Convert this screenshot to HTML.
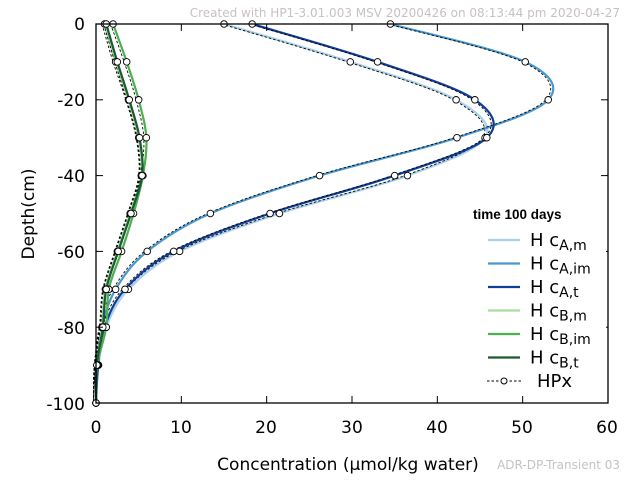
<!DOCTYPE html>
<html><head><meta charset="utf-8"><style>
body{margin:0;background:#fff;}
svg{display:block;font-family:"DejaVu Sans","Liberation Sans",sans-serif;}
</style></head><body>
<svg id="s" width="640" height="480" xmlns="http://www.w3.org/2000/svg">
<rect width="640" height="480" fill="#fff"/>
<text x="620" y="17" font-size="12" fill="#c8c0c8" text-anchor="end">Created with HP1-3.01.003 MSV 20200426 on 08:13:44 pm 2020-04-27</text>
<text x="620" y="469" font-size="12" fill="#c8c0c8" text-anchor="end">ADR-DP-Transient 03</text>
<g id="curves"></g>
<rect x="96" y="24" width="512" height="379" fill="none" stroke="#000" stroke-width="1.3"/>
<g id="ticks" stroke="#000" stroke-width="1"></g>
<g font-size="17" fill="#000" text-anchor="end">
<text x="85" y="30">0</text><text x="85" y="106">-20</text><text x="85" y="182">-40</text>
<text x="85" y="258">-60</text><text x="85" y="334">-80</text><text x="85" y="410">-100</text>
</g>
<g font-size="17" fill="#000" text-anchor="middle">
<text x="96" y="433">0</text><text x="181" y="433">10</text><text x="266" y="433">20</text>
<text x="352" y="433">30</text><text x="437" y="433">40</text><text x="522" y="433">50</text><text x="607" y="433">60</text>
</g>
<text x="348" y="470" font-size="17" text-anchor="middle">Concentration (μmol/kg water)</text>
<text transform="translate(34,214) rotate(-90)" font-size="17" text-anchor="middle">Depth(cm)</text>
<rect x="468" y="200" width="138" height="196" fill="#fff"/>
<text x="473" y="219" font-size="13.5" font-weight="bold" font-family="Liberation Sans,sans-serif">time 100 days</text>
<g id="leg" font-size="18"></g>
</svg>
<script>
const X=v=>96+v*8.533, Y=d=>24+d*3.79;
const D=[0,10,20,30,40,50,60,70,80,90,100];
const S=[
 ["#a8d0ea",[15,29.8,42.2,45.6,36.5,21.5,9.8,3.8,1.2,0.3,0]],
 ["#4a98d0",[34.5,50.3,53,42.3,26.2,13.4,6,2.3,0.7,0.15,0]],
 ["#103e96",[18.3,33,44.4,45.8,35,20.4,9.1,3.4,1.0,0.25,0]],
 ["#a8dca0",[1,2.3,3.8,5,5.3,4.0,2.5,1.1,0.7,0.1,0]],
 ["#4cb050",[2,3.6,5,5.9,5.5,4.4,3.0,1.5,1.2,0.15,0]],
 ["#1a5a30",[1.2,2.5,3.9,5.1,5.4,4.1,2.6,1.2,0.8,0.1,0]]];
function path(v,off){const p=D.map((d,i)=>[X(v[i]+off),Y(d)]);let s=`M${p[0][0]},${p[0][1]}`;
for(let i=0;i<p.length-1;i++){const a=p[Math.max(i-1,0)],b=p[i],c=p[i+1],e=p[Math.min(i+2,p.length-1)];
s+=` C${b[0]+(c[0]-a[0])/6},${b[1]+(c[1]-a[1])/6} ${c[0]-(e[0]-b[0])/6},${c[1]-(e[1]-b[1])/6} ${c[0]},${c[1]}`;}return s;}
let h='',m='';
S.forEach(([c,v])=>{h+=`<path d="${path(v,0)}" fill="none" stroke="${c}" stroke-width="2.2"/>`;
h+=`<path d="${path(v,-0.3)}" fill="none" stroke="#000" stroke-width="0.9" stroke-dasharray="2.5,2"/>`;
D.forEach((d,i)=>{m+=`<circle cx="${X(v[i])}" cy="${Y(d)}" r="3.3" fill="#fff" stroke="#000" stroke-width="0.9"/>`;});});
document.getElementById('curves').innerHTML=h+m;
let t='';[10,20,30,40,50].forEach(v=>{t+=`<line x1="${X(v)}" y1="403" x2="${X(v)}" y2="396"/><line x1="${X(v)}" y1="24" x2="${X(v)}" y2="31"/>`;});
[20,40,60,80].forEach(d=>{t+=`<line x1="96" y1="${Y(d)}" x2="103" y2="${Y(d)}"/><line x1="608" y1="${Y(d)}" x2="601" y2="${Y(d)}"/>`;});
document.getElementById('ticks').innerHTML=t;
const L=[["#a8d0ea","A,m"],["#4a98d0","A,im"],["#103e96","A,t"],["#a8dca0","B,m"],["#4cb050","B,im"],["#1a5a30","B,t"]];
let g='';L.forEach(([c,s],i)=>{const y=240+i*23.5;g+=`<line x1="488" y1="${y}" x2="520" y2="${y}" stroke="${c}" stroke-width="2.2"/>`;
g+=`<text x="530" y="${y+6}">H c<tspan font-size="14" dy="4">${s}</tspan></text>`;});
g+=`<line x1="487" y1="381" x2="521" y2="381" stroke="#000" stroke-width="0.9" stroke-dasharray="2.5,2"/><circle cx="504" cy="381" r="3" fill="#fff" stroke="#000"/>`;
g+=`<text x="537" y="387">HPx</text>`;
document.getElementById('leg').innerHTML=g;
</script>
</body></html>
